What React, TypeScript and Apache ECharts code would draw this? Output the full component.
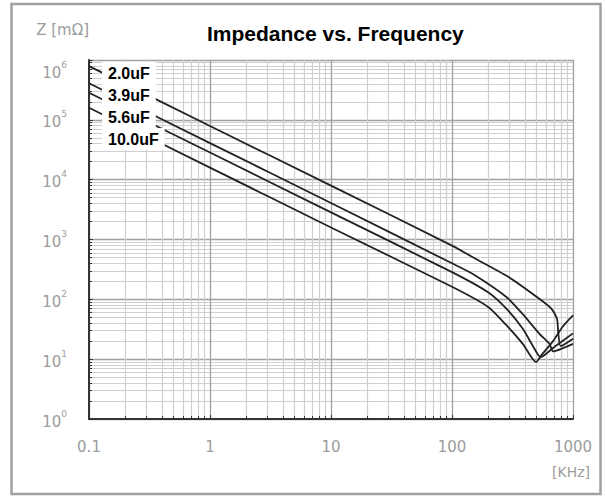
import React, { useEffect, useRef } from "react";
import * as echarts from "echarts";

const seriesNames = ["2.0uF", "3.9uF", "5.6uF", "10.0uF"];

const freq2_0 = [0.1, 1, 10, 100, 150, 285, 533, 670, 738, 755, 790, 1000];
const z2_0 = [790000, 79000, 7950, 790, 500, 245, 100, 68, 47, 28, 16.5, 22];

const freq3_9 = [0.1, 1, 10, 100, 150, 285, 386, 533, 640, 684, 1000];
const z3_9 = [408000, 40800, 4080, 400, 262, 107, 56, 26, 18, 13.5, 18];

const freq5_6 = [0.1, 1, 10, 100, 200, 285, 386, 467, 540, 700, 1000];
const z5_6 = [284000, 28400, 2840, 285, 130, 68, 32, 16.5, 10.8, 16, 27];

const freq10_0 = [0.1, 1, 10, 100, 200, 285, 386, 494, 555, 684, 826, 1000];
const z10_0 = [159000, 15900, 1590, 162, 74, 36, 17.8, 8.9, 12, 20, 35.5, 54];

const xTickLabels = ["0.1", "1", "10", "100", "1000"];
const yTickExponents = ["0", "1", "2", "3", "4", "5", "6"];

const seriesFreqs = [freq2_0, freq3_9, freq5_6, freq10_0];
const seriesZ = [z2_0, z3_9, z5_6, z10_0];

const BOLD_FONT = '"Liberation Sans", Arial, Helvetica, sans-serif';
const GRAY_FONT = '"DejaVu Sans", "Liberation Sans", Arial, sans-serif';
const GRAY = "#9c9c9c";

export default function App() {
  const ref = useRef<HTMLDivElement>(null);

  useEffect(() => {
    if (!ref.current) return;
    const chart = echarts.init(ref.current, null, { renderer: "svg" });

    const series = seriesNames.map((name, i) => ({
      name,
      type: "line",
      data: seriesFreqs[i].map((f, j) => [f, seriesZ[i][j]]),
      showSymbol: false,
      smooth: 0.2,
      lineStyle: { color: "#222222", width: 1.8 },
      itemStyle: { color: "#222222" },
      z: 3,
    }));

    const option: any = {
      animation: false,
      backgroundColor: "#ffffff",
      title: {
        text: "Impedance vs. Frequency",
        left: 207,
        top: 23,
        padding: 0,
        textStyle: {
          fontFamily: BOLD_FONT,
          fontSize: 21,
          fontWeight: "bold",
          color: "#000",
        },
      },
      legend: {
        orient: "vertical",
        left: 97,
        top: 62,
        icon: "none",
        itemWidth: 0,
        itemHeight: 16,
        itemGap: 0,
        padding: 0,
        selectedMode: false,
        data: seriesNames,
        textStyle: {
          fontFamily: BOLD_FONT,
          fontSize: 16,
          fontWeight: "bold",
          color: "#000",
          backgroundColor: "#fff",
          padding: [3, 6],
        },
        z: 10,
      },
      grid: { left: 89, right: 33, top: 60, bottom: 78, containLabel: false },
      xAxis: {
        type: "log",
        logBase: 10,
        min: 0.1,
        max: 1000,
        name: "[KHz]",
        nameLocation: "end",
        nameGap: 17,
        nameTextStyle: {
          fontFamily: GRAY_FONT,
          fontSize: 14,
          color: GRAY,
          align: "right",
          verticalAlign: "top",
          padding: [46, 0, 0, 0],
        },
        axisLine: { show: true, lineStyle: { color: "#333", width: 2 } },
        axisTick: { show: true, inside: true, length: 4, lineStyle: { color: "#333" } },
        minorTick: { show: true, splitNumber: 9, length: 3, lineStyle: { color: "#333" } },
        splitLine: { show: true, lineStyle: { color: "#a0a0a0", width: 1.3 } },
        minorSplitLine: { show: true, lineStyle: { color: "#cfcfcf", width: 1.2 } },
        axisLabel: {
          fontFamily: GRAY_FONT,
          fontSize: 15,
          color: GRAY,
          margin: 20,
          formatter: (_v: number, i: number) => xTickLabels[i] ?? "",
        },
      },
      yAxis: {
        type: "log",
        logBase: 10,
        min: 1,
        max: 1000000,
        name: "Z [mΩ]",
        nameLocation: "end",
        nameGap: 30,
        nameTextStyle: {
          fontFamily: GRAY_FONT,
          fontSize: 15,
          color: GRAY,
          align: "right",
          verticalAlign: "middle",
        },
        axisLine: { show: true, lineStyle: { color: "#333", width: 2 } },
        axisTick: { show: true, inside: true, length: 4, lineStyle: { color: "#333" } },
        minorTick: { show: true, splitNumber: 9, length: 3, lineStyle: { color: "#333" } },
        splitLine: { show: true, lineStyle: { color: "#a0a0a0", width: 1.3 } },
        minorSplitLine: { show: true, lineStyle: { color: "#cfcfcf", width: 1.2 } },
        axisLabel: {
          margin: 22,
          verticalAlignMaxLabel: "top",
          formatter: (_v: number, i: number) => `{b|10}{s|${yTickExponents[i] ?? ""}}`,
          rich: {
            b: { fontFamily: GRAY_FONT, fontSize: 15, color: GRAY, lineHeight: 20, verticalAlign: "bottom" },
            s: { fontFamily: GRAY_FONT, fontSize: 9, color: GRAY, lineHeight: 10, verticalAlign: "top" },
          },
        },
      },
      graphic: [
        {
          type: "rect",
          shape: { x: 11.5, y: 4, width: 589, height: 490 },
          style: { fill: "none", stroke: "#a0a0a0", lineWidth: 2.5 },
          silent: true,
          z: 0,
        },
      ],
      series,
    };

    chart.setOption(option);
    return () => chart.dispose();
  }, []);

  return (
    <div
      ref={ref}
      style={{ position: "fixed", left: 0, top: 0, width: 606, height: 497 }}
    />
  );
}
